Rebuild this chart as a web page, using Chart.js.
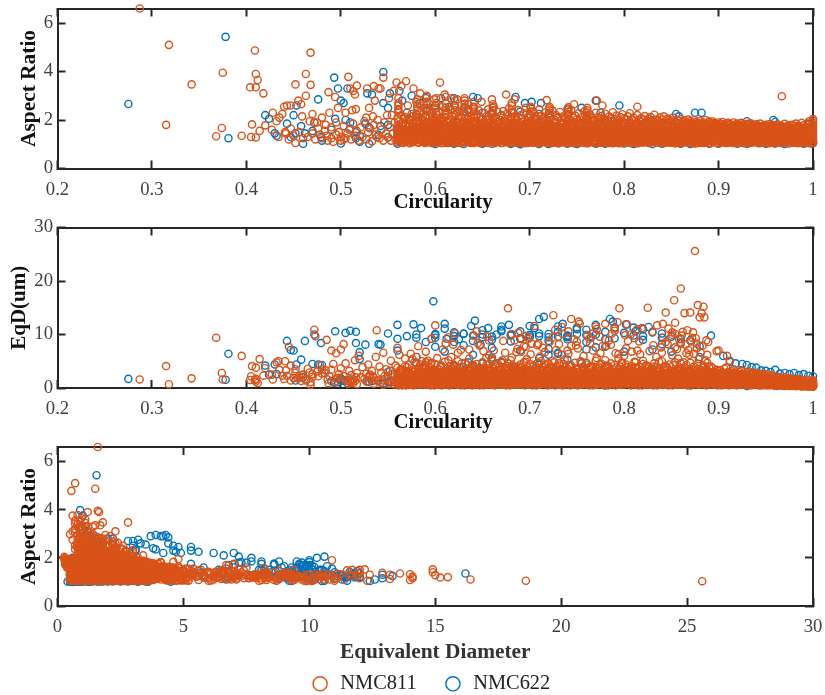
<!DOCTYPE html>
<html><head><meta charset="utf-8">
<script src="https://cdn.jsdelivr.net/npm/chart.js@4"></script>
<style>html,body{margin:0;padding:0;background:#fff;overflow:hidden}canvas{position:absolute;left:0;filter:blur(.35px)}</style></head>
<body>
<canvas id="c1" style="top:0"></canvas><canvas id="c2" style="top:215px"></canvas><canvas id="c3" style="top:435px"></canvas>
<script>
// each particle: [circularity, aspect ratio, equivalent diameter]
const rows811=[
[.287,6.6,1.6],[.318,5.1,.7],[.409,4.87,1.5],[.468,4.78,.55],[.375,3.95,1.6],[.41,3.9,1.2],[.463,3.9,1.65],[.342,3.47,1.8],[.412,3.65,.95],[.404,3.35,1.5],[.41,3.35,1.7],[.418,3.1,2.3],[.452,3.47,2.8],[.468,3.45,1.1],[.315,1.8,4.1],[.374,1.67,2.8],[.368,1.33,9.4],[.395,1.35,6],[.406,1.82,4.1],[.41,1.28,3.8],[.414,1.55,5.4],[.405,1.3,2.2],
[.44,2.55,1.7],[.443,2.6,2.3],[.447,2.6,1.4],[.428,2.3,1.6],[.435,2.1,3.4],[.438,2.25,2.3],[.432,1.95,4.8],[.42,1.78,3.7],[.427,1.6,2.5],[.434,1.3,5],[.441,1.5,5],[.445,1.2,7.7],[.452,1.05,3.5],[.46,1.25,2.5],[.465,1.3,3.6],[.473,1.2,9.7],[.478,1.4,4.3],[.455,2.8,1.8],[.458,2.65,1.3],[.459,2.15,2.4],[.463,3,1.4],[.47,2.25,2.1],[.467,1.95,2.9],[.475,1.9,3.1],[.48,2.1,2.7],[.484,1.8,3.3],[.487,3.15,.9],[.494,2.95,1.1],[.488,2.3,2.2],[.497,2.5,1.9],[.508,3.78,.8],[.51,3.3,1.1],[.513,3.2,.9],[.515,3.05,1.3],[.517,3.42,.7],[.505,2.3,1.5],[.512,2.4,1.3],[.516,2.45,2],[.528,3.3,1.2],[.535,3.4,.8],[.54,3.3,1.4],[.545,3.75,.6],[.542,3.3,1],[.536,2.8,1.4],[.53,2.5,2],[.527,2.1,2.7],[.534,2.15,2.2],[.538,1.3,10.8],
[.472,1.9,10.9],[.485,1.35,9],[.49,1.25,7],[.495,1.4,6.5],[.5,1.3,7.2],[.503,1.2,8.2],[.442,1.45,3.3],[.447,1.65,4.2],[.45,1.35,1.9],[.456,1.5,2.2],[.47,1.45,2.6],[.476,1.65,2.2],[.48,1.25,3.5],[.483,1.55,2.8],[.486,1.15,1.6],[.49,1.7,3.4],[.492,1.1,4.5],[.495,1.9,1.8],[.498,1.5,2.6],[.5,1.15,3.7],[.503,1.75,2.2],[.505,1.25,4.6],[.507,1.45,1.3],[.509,1.6,3.2],[.511,1.2,2.4],[.513,1.85,1.6],[.515,1.35,5.2],[.517,1.55,2.8],[.519,1.15,6],[.521,1.7,2],[.523,1.3,3.9],[.525,1.95,1.7],[.527,1.2,1.2],[.529,1.5,4.4],[.531,1.65,2.5],[.533,1.12,3.2],[.535,1.8,1.9],[.537,1.4,5.8],[.539,2,1.4],[.541,1.25,4],[.543,1.6,2.9],[.545,1.15,6.6],[.546,1.9,2.2],[.548,1.45,3.5],[.549,2.2,1.6],
[.55,1.3,2.1],[.551,2.9,.8],[.552,1.7,3.2],[.553,1.15,5.1],[.554,2.2,1.1],[.555,1.45,2.6],[.556,3.2,.7],[.557,1.9,1.5],[.558,1.2,4.2],[.559,3.55,.9],[.56,1.6,7.5],[.561,2.4,1.8],[.562,1.1,6.2],[.563,1.35,3.4],[.564,3.4,.8],[.565,1.75,2.2],[.566,1.05,1.4],[.567,2.05,1.2],[.568,1.25,5.5],[.569,3.6,1.1],[.57,1.5,3.9],[.571,2.6,1],[.572,1.15,1.9],[.573,1.85,2.7],[.574,1.4,6.4],[.575,2.25,1.5],[.576,1.08,3.1],[.577,3.3,.9],[.578,1.65,4.8],[.579,1.3,2.3],[.58,2.75,1.3],[.581,1.95,.9],[.582,1.18,7.8],[.583,1.55,3.6],[.584,3.1,.6],[.585,2.1,1.7],[.586,1.28,5],[.587,1.72,2.5],[.588,2.5,1.2],[.589,1.1,4.3],[.59,1.45,6.8],[.591,3,.9],[.592,1.88,3],[.593,1.2,2],[.594,2.35,1.4],[.595,1.6,4.5],[.596,1.35,9.2],[.597,2.15,1.9],[.598,1.05,2.8],[.599,2.85,1],
[.6,1.5,11.7],[.605,3.55,.7],[.61,3.05,1],[.617,2.9,.8],[.623,2.85,.9],[.635,2.65,.9],[.649,2.75,.8],[.66,2.85,.9],[.675,3.05,.7],[.684,2.85,1],[.718,2.82,.9],[.747,2.65,1],[.771,2.8,.9],[.777,2.6,1.1],[.814,2.55,1],[.967,2.98,.5],
[.677,1.52,14.9],[.725,1.35,13.6],[.744,1.38,12.9],[.752,1.3,12.4],[.77,1.48,11.5],[.78,1.5,12],[.79,1.28,10.7],[.795,1.4,14.9],[.803,1.25,11.9],[.819,1.3,11.2],[.825,1.28,15],[.83,1.35,10.5],[.835,1.25,11.7],[.841,1.38,12],[.844,1.22,14.1],[.851,1.12,10.4],[.853,1.1,16.4],[.854,1.52,12.2],[.86,1.05,18.6],[.862,1.2,10.5],[.864,1.32,14],[.867,1.1,10.8],[.87,1.15,14.1],[.873,1.28,10.4],[.875,1.03,25.6],[.878,1.2,15.5],[.88,1.12,13.2],[.882,1.08,14],[.884,1.18,15.2],[.885,1.3,13.2],
[.596,1.35,9.2],[.619,1.32,8.1],[.645,1.22,8.4],[.655,1.2,9.6],[.672,1.45,8.8],[.688,1.3,10.3],[.709,1.27,8.3],[.735,1.08,10.1],[.749,1.28,8],[.763,1.15,9.2],[.786,1.08,8.1],[.816,1.12,8.7],[.846,1.58,8.2],[.858,1.4,9.1],[.877,1.42,8.3],[.889,1.4,8.6],[.89,1.95,1.2],[.898,1.25,6.9],[.9,1.3,7],[.912,1.2,5.1],
[.608,1.25,7.2],[.624,1.42,6.6],[.636,1.52,7.2],[.662,1.72,7],[.686,1.7,6.7],[.696,1.25,7.7],[.716,1.55,6.7],[.728,1.15,7.1],[.741,1.18,6.4],[.767,1.75,7],[.775,1.38,6.5],[.794,1.18,6.3],[.802,1.48,7.4],[.808,1.38,6.8],[.827,1.18,6.9],[.839,1.15,7.6],[.856,1.25,7.3],[.866,1.48,6.5],[.888,1.25,6.2],[.909,1.05,6],
[.651,1.15,3.6],[.654,1.25,5.6],[.657,1.35,6.1],[.661,1.45,5],[.664,1.55,4.4],[.671,1.2,5.2],[.674,1.3,6.6],[.677,1.4,4.6],[.681,1.5,5.7],[.684,1.62,3.9],[.691,1.12,6.8],[.694,1.22,4.8],[.697,1.32,5.4],[.701,1.42,6.3],[.704,1.58,4.2],[.711,1.18,5.9],[.714,1.28,7.5],[.717,1.38,4.5],[.721,1.48,3.9],[.724,1.55,5.1],[.731,1.1,4.6],[.734,1.2,6.2],[.737,1.3,5.3],[.74,1.4,7],[.743,1.52,4.3],[.751,1.15,7.4],[.754,1.25,5],[.757,1.35,6],[.76,1.45,4.7],[.763,1.6,3.8],[.771,1.08,5.6],[.774,1.18,4.4],[.777,1.28,7.8],[.78,1.38,5.2],[.783,1.5,4.1],[.791,1.12,6.5],[.794,1.22,5.5],[.797,1.32,4.7],[.8,1.42,6],[.803,1.48,3.9],[.811,1.1,4.9],[.814,1.2,7],[.817,1.3,6.3],[.82,1.4,5.1],[.823,1.52,4.2],[.831,1.15,8],[.834,1.25,5.8],[.837,1.35,4.9],[.84,1.45,6.6],[.843,1.56,4],[.851,1.06,6.1],[.854,1.16,7.6],[.857,1.26,5.5],[.86,1.36,8.3],[.863,1.44,4.8],[.871,1.12,8.7],[.874,1.22,6.4],[.877,1.32,7.4],[.879,1.42,5.4],[.872,1.5,9.4],[.861,1.2,9.8],[.865,1.3,8.1],[.868,1.1,7.1],[.869,1.38,6.2],[.876,1.28,9.3],[.881,1.15,6.7],[.883,1.25,7.9],[.886,1.05,5.2],[.888,1.35,4.7],[.887,1.18,8.9],
[.611,1.08,8.3],[.614,1.18,9.5],[.617,1.28,5.8],[.621,1.14,10.2],[.627,1.38,7.1],[.641,1.05,9.8],[.644,1.22,10.6],[.647,1.34,7.9],[.651,1.1,6.9],[.657,1.3,8.9],[.681,1.12,10.1],[.684,1.2,8.9],[.687,1.4,7.3],[.691,1.06,9.3],[.694,1.26,7.8],[.721,1.08,8.6],[.724,1.16,9.4],[.727,1.24,10.9],[.731,1.36,8.2],[.734,1.1,11.4],[.761,1.04,9.9],[.764,1.18,8.4],[.767,1.3,10.2],[.771,1.12,11],[.774,1.24,9.6],[.801,1.1,9.9],[.804,1.2,8.8],[.807,1.28,10],[.811,1.14,9.3],[.814,1.05,11],[.841,1.08,9.4],[.844,1.22,8.6],[.847,1.16,11.1],[.851,1.3,9.9],[.854,1.04,10.1],[.696,1.1,9.7],[.699,1.25,9.2],[.702,1.15,8.3],[.705,1.33,11.6],[.708,1.05,8],[.741,1.1,10.6],[.744,1.2,7.9],[.747,1.32,9.1],[.75,1.05,8.7],[.753,1.15,12],[.781,1.16,7.9],[.784,1.26,8.9],[.787,1.08,10.2],[.79,1.34,11.1],[.793,1.05,12.3]
];
// dense band: [circularity, aspect,diameter, aspect,diameter, ...]
const dense811=[
[.56,1.08,3.8,1.31,.9,1.52,2.4,1.77,1.3,2.08,1.6],[.564,1.12,1.5,1.36,3,1.57,.8,1.83,1.9,2.19,1.4],[.568,1.1,2.9,1.33,1.4,1.54,4.1,1.79,2.3,2.12,1.9],[.572,1.07,4.3,1.28,2.6,1.5,1.2,1.74,3.1,2.05,.9],[.576,1.14,1.9,1.37,5.4,1.59,3.2,1.85,1,2.15,2.4],
[.58,1.2,5.8,1.44,1.3,1.65,2.5,1.93,1.7,2.23,1.5],[.582,1.06,3.4,1.34,2.8,1.56,.9,1.81,3.6,2.09,2],[.584,1.16,1.2,1.41,4.4,1.62,2.1,1.87,1.4,2.34,1.2],[.586,1.11,2.7,1.29,3.7,1.53,1.5,1.76,2.9,2.02,.8],[.588,1.23,4,1.45,1,1.69,3,1.97,2,2.62,1.1],
[.59,1.13,1.7,1.38,2.3,1.58,4.8,1.84,1.2,2.17,1.7],[.592,1.08,5.1,1.32,3.3,1.51,1.8,1.75,2.7,2.41,.9],[.594,1.21,2.2,1.43,.8,1.66,3.8,1.92,1.6,2.1,2.3],[.596,1.05,3.1,1.27,4.7,1.55,2.4,1.78,1.1,2.28,1.4],[.598,1.18,1.4,1.39,2.9,1.6,1.9,1.86,3.4,2.04,1.3],
[.6,1.1,4.5,1.35,1.6,1.64,3.2,1.89,.9,2.48,1.2],[.602,1.25,2.6,1.48,5.6,1.71,1.3,1.98,2.2,2.2,1.8],[.604,1.07,1.8,1.3,3.5,1.52,2.7,1.77,1.5,2.36,.7],[.606,1.15,3.9,1.4,1,1.59,4.2,1.82,2.4,2.07,1.6],[.608,1.2,2,1.43,2.8,1.67,1.1,1.95,3,2.56,1],
[.61,1.09,1.3,1.33,4.9,1.56,2.3,1.8,1.7,2.13,2],[.612,1.17,3.6,1.46,1.5,1.62,3.1,1.9,.8,2.3,1.3],[.614,1.05,2.5,1.28,1.9,1.54,5.2,1.73,2.6,2.01,1.4],[.616,1.22,4.1,1.37,3.2,1.69,1.4,1.94,2.1,2.42,.9],[.618,1.13,.9,1.41,2.2,1.6,3.7,1.84,1.2,2.16,1.9],
[.62,1.08,3,1.32,4.3,1.5,1.6,1.79,2.8,2.6,.8],[.622,1.19,1.5,1.44,2.7,1.65,.9,1.88,3.4,2.25,1.2],[.624,1.06,5,1.26,1.2,1.57,2.9,1.76,1.8,2.06,1.5],[.626,1.16,2.3,1.39,3.8,1.63,2,1.92,1.3,2.35,1.7],[.628,1.11,1.7,1.34,.8,1.53,4.6,1.81,2.5,2.11,2.2],
[.63,1.24,3.2,1.47,2.1,1.68,1.4,1.97,2.9,2.47,1],[.632,1.07,4.7,1.3,3,1.55,1.1,1.78,2.2,2.18,1.6],[.634,1.14,1,1.42,2.4,1.61,3.5,1.86,1.7,2.03,1.1],[.636,1.2,2.8,1.36,5.5,1.58,1.9,1.83,1,2.32,1.4],[.638,1.05,1.6,1.29,3.3,1.51,2.6,1.75,4,2.14,1.8],
[.64,1.17,4.2,1.4,1.2,1.66,2.2,1.93,3.1,2.53,.9],[.642,1.1,2.6,1.33,1.8,1.56,3.9,1.8,1.4,2.08,2.1],[.644,1.22,.9,1.45,4.5,1.64,2.8,1.89,1.6,2.24,1.3],[.646,1.08,3.5,1.27,2,1.52,1.3,1.74,3.3,2.4,1.1],[.648,1.15,1.9,1.38,3.6,1.6,.8,1.85,2.4,2.12,1.5],
[.65,1.06,2.2,1.31,4.8,1.54,3,1.77,1.2,2.02,2.4],[.652,1.19,3.7,1.43,1.5,1.67,2.3,1.94,1.9,2.29,1.2],[.654,1.12,1.1,1.35,2.9,1.59,4.3,1.82,2.7,2.15,1.7],[.656,1.05,4.4,1.28,1.7,1.5,2.1,1.72,3.7,2.44,.8],[.658,1.23,2.5,1.41,3.4,1.63,1,1.9,1.5,2.07,1.9],
[.66,1.1,1.4,1.37,5.3,1.55,2.6,1.79,2,2.21,1.4],[.662,1.16,3.1,1.3,1.9,1.61,3.6,1.87,1.1,2.55,1],[.664,1.07,2.4,1.44,.9,1.53,1.6,1.76,2.8,2.1,2.2],[.666,1.2,4.6,1.34,2.7,1.65,3.3,1.92,1.3,2.33,1.3],[.668,1.13,1.8,1.39,4,1.58,1.2,1.83,2.5,2.01,1.6],
[.67,1.05,3.4,1.26,2.2,1.49,4.7,1.74,1.7,2.18,1.1],[.672,1.18,1.3,1.42,3,1.68,2.4,1.95,.9,2.37,1.5],[.674,1.09,2.9,1.32,1.4,1.56,3.8,1.81,2.1,2.05,2],[.676,1.21,4.1,1.46,2.5,1.62,1.5,1.88,3.2,2.26,.9],[.678,1.12,.8,1.36,3.7,1.52,2,1.77,1.2,2.48,1.2],
[.68,1.07,5.2,1.29,1.6,1.59,2.9,1.85,2.3,2.09,1.8],[.682,1.15,2.1,1.4,4.2,1.66,1.1,1.91,1.8,2.3,1.4],[.684,1.23,3.3,1.33,2.6,1.54,3.5,1.73,.9,2.13,1.6],[.686,1.06,1.5,1.45,.8,1.63,2.2,1.84,2.9,2.02,2.3],[.688,1.17,4,1.31,3.1,1.5,1.7,1.79,1.3,2.41,1],
[.69,1.1,2.3,1.38,1.2,1.6,4.4,1.87,2.4,2.19,1.5],[.692,1.2,1,1.27,3.9,1.56,2.7,1.93,1.6,2.06,1.3],[.694,1.08,3.6,1.43,2,1.67,1.4,1.76,3.4,2.28,1.7],[.696,1.14,1.7,1.35,4.9,1.53,2.5,1.82,1,2.5,.9],[.698,1.05,2.8,1.3,1.3,1.61,3.2,1.9,2.2,2.11,1.2],
[.7,1.19,4.5,1.41,2.3,1.55,.9,1.8,1.9,2.23,2],[.702,1.11,1.6,1.34,3.4,1.65,2.8,1.86,1.2,2,1.6],[.704,1.06,3,1.28,1.1,1.51,4.1,1.74,2.6,2.35,1.1],[.706,1.22,2.4,1.44,3.8,1.62,1.7,1.94,1.4,2.14,1.8],[.708,1.13,.8,1.37,2.1,1.57,3.1,1.83,4.6,2.04,1.3],
[.71,1.07,3.7,1.32,1.5,1.69,2.3,1.78,3,2.44,.8],[.712,1.16,1.9,1.39,5,1.52,1.2,1.88,1.8,2.17,1.5],[.714,1.09,2.7,1.25,3.3,1.59,3.9,1.96,.9,2.08,2.2],[.716,1.2,4.3,1.42,.9,1.64,2,1.75,2.5,2.31,1.2],[.718,1.05,1.2,1.35,2.8,1.54,1.6,1.85,3.5,2.01,1.7],
[.72,1.14,3.2,1.29,1.8,1.6,4.6,1.91,1.1,2.26,1.4],[.722,1.1,2,1.46,3.6,1.67,2.6,1.81,1.5,2.1,1.9],[.724,1.23,.9,1.33,2.5,1.56,1.3,1.77,3.8,2.39,.9],[.726,1.07,4.8,1.4,1.4,1.5,3.3,1.87,2.1,2.03,1.1],[.728,1.17,2.6,1.3,4,1.63,1,1.93,1.7,2.2,1.6],
[.73,1.06,1.5,1.37,2.2,1.58,2.9,1.72,3.4,2.12,2.1],[.732,1.12,3.5,1.43,1.1,1.66,4.2,1.84,1.3,2.33,1],[.734,1.21,2.3,1.27,3,1.53,1.9,1.8,2.7,2,1.4],[.736,1.08,.8,1.35,4.5,1.61,2.4,1.89,1.6,2.15,1.7],[.738,1.15,3.9,1.41,1.7,1.55,1.2,1.76,3.1,2.07,1.2],
[.74,1.05,2.8,1.31,2.6,1.64,3.6,1.95,.9,2.25,1.5],[.742,1.19,1.3,1.44,4.3,1.51,2.1,1.83,1.9,2.02,2],[.744,1.1,4.1,1.26,1.6,1.59,1,1.78,2.9,2.4,.8],[.746,1.16,2.1,1.38,3.2,1.68,2.5,1.86,1.4,2.1,1.6],[.748,1.07,1,1.33,1.2,1.54,4.7,1.91,2.2,2.18,1.1],
[.75,1.22,3.4,1.45,2.7,1.62,1.5,1.74,3.7,2.04,1.9],[.752,1.12,1.8,1.29,.9,1.57,3,1.82,1.1,2.28,1.3],[.754,1.06,4.9,1.36,2.3,1.5,1.8,1.88,2.6,2,2.4],[.756,1.18,2.5,1.42,3.9,1.65,.8,1.77,1.5,2.13,1.4],[.758,1.09,1.4,1.3,1.7,1.6,3.4,1.94,1.2,2.36,1],
[.76,1.14,3.1,1.39,4.4,1.53,2.2,1.85,2.8,2.06,1.7],[.762,1.05,.9,1.25,2.4,1.67,1.3,1.8,3.5,1.99,2.1],[.764,1.2,4,1.43,1.1,1.56,2.7,1.73,1.9,2.22,1.2],[.766,1.1,2,1.34,3.7,1.63,4.1,1.9,1,2.09,1.5],[.768,1.17,1.6,1.41,2.9,1.49,1.5,1.79,2.3,2.02,1.9],
[.77,1.07,5.1,1.31,1.3,1.59,2.5,1.86,3.2,2.3,.9],[.772,1.23,2.7,1.46,.8,1.66,3.6,1.75,1.7,2.11,1.3],[.774,1.13,1.1,1.28,3.8,1.54,1.9,1.83,1.2,2,2.2],[.776,1.06,3.3,1.37,2.1,1.61,4.5,1.92,2.4,2.16,1.4],[.778,1.15,2.2,1.44,1.5,1.51,1.1,1.78,3,2.05,1.6],
[.78,1.09,.8,1.3,4.2,1.64,2.6,1.87,1.6,2.26,1.1],[.782,1.19,3.6,1.4,2.8,1.57,1.4,1.72,3.9,2.01,2],[.784,1.05,1.9,1.33,1,1.53,3.1,1.81,2,2.14,1.2],[.786,1.11,4.6,1.26,2.5,1.68,.9,1.95,1.3,2.08,1.7],[.788,1.21,1.2,1.42,3.5,1.6,2.3,1.76,2.7,2.32,.9],
[.79,1.07,2.9,1.35,1.8,1.5,4.3,1.84,1.1,2.03,1.5],[.792,1.16,3.8,1.29,2.2,1.62,1.6,1.89,2.4,2.18,1],[.794,1.1,1.5,1.45,.9,1.55,3.3,1.79,3.6,2,1.8],[.796,1.22,2.4,1.38,4,1.66,2,1.74,1.2,2.12,2],[.798,1.05,4.7,1.32,1.4,1.58,2.8,1.93,1.9,2.24,1.1],
[.8,1.13,1.7,1.41,3,1.52,1.2,1.82,3.4,2.05,1.3],[.802,1.08,3.2,1.27,2.6,1.63,4.4,1.86,.8,2.01,2.1],[.804,1.18,.9,1.36,1.6,1.56,2.1,1.77,2.9,2.15,1.5],[.806,1.06,2.3,1.43,3.7,1.48,3.5,1.9,1.5,2.28,.9],[.808,1.2,4.1,1.3,1,1.65,1.8,1.71,2.5,2.03,1.2],
[.81,1.11,2.7,1.39,2.4,1.59,.8,1.84,3.1,2.1,1.7],[.812,1.05,1.3,1.25,4.8,1.53,3.8,1.8,1.4,1.98,2.3],[.814,1.15,3.5,1.44,1.9,1.61,2.3,1.88,2.1,2.2,1],[.816,1.09,2,1.33,3.1,1.67,1.1,1.75,4,2,1.4],[.818,1.23,1.1,1.37,2.2,1.5,2.9,1.92,1.2,2.08,1.8],
[.82,1.07,4.5,1.29,1.5,1.57,3.4,1.82,2.6,2.02,2],[.822,1.17,2.5,1.42,.9,1.64,1.7,1.78,1.9,2.16,1.3],[.824,1.12,3.6,1.34,4.2,1.52,2.7,1.85,1,1.97,1.6],[.826,1.05,1.6,1.4,2,1.6,3.9,1.73,3.2,2.05,1.1],[.828,1.2,2.9,1.26,3.3,1.55,1.3,1.9,1.7,2.12,1.9],
[.83,1.1,.8,1.45,1.2,1.66,2.4,1.8,2.8,1.99,2.3],[.832,1.16,4,1.31,2.7,1.49,4.6,1.86,1.4,2.22,.8],[.834,1.06,2.2,1.38,3.8,1.62,1.5,1.75,2.2,2.02,1.4],[.836,1.22,1.4,1.35,1.1,1.58,3,1.83,3.5,1.96,1.8],[.838,1.08,3.1,1.43,2.5,1.53,1.9,1.77,1.1,2.1,1.2],
[.84,1.14,5,1.28,1.7,1.65,2.6,1.88,2,2.01,1.5],[.842,1.05,1.9,1.4,3.4,1.56,.9,1.72,3.7,2.15,1],[.844,1.19,2.8,1.33,.9,1.5,4.1,1.84,1.6,1.98,2.2],[.846,1.11,3.7,1.46,2.2,1.61,2.3,1.79,2.4,2.06,1.3],[.848,1.07,1.2,1.25,4.4,1.54,3.2,1.9,1.2,2,1.7],
[.85,1.21,2.4,1.37,1.4,1.68,1.6,1.74,2.9,1.95,1.9],[.852,1.12,4.3,1.3,3,1.52,2.8,1.82,.9,2.1,1],[.854,1.06,1.5,1.42,2.1,1.59,4.8,1.76,3.3,1.93,1.5],[.856,1.17,3.3,1.34,1.1,1.63,1.3,1.86,1.8,2,1.2],[.858,1.1,.8,1.27,3.6,1.49,2.5,1.71,2.3,1.97,2],
[.86,1.05,2.7,1.39,4.6,1.56,3.7,1.8,1.5,2.04,.9],[.862,1.23,1.7,1.44,1.6,1.6,1.1,1.75,3,1.92,1.4],[.864,1.13,3.9,1.31,2.3,1.66,2.1,1.84,1.2,1.98,1.8],[.866,1.08,2.2,1.36,.9,1.51,4.3,1.7,2.6,1.9,1.6],[.868,1.18,1,1.26,3.2,1.58,1.8,1.78,3.5,2.02,1.1],
[.87,1.06,4.7,1.41,1.9,1.54,2.9,1.87,1.4,1.95,1.3],[.872,1.15,3,1.33,2.8,1.62,1.4,1.73,2.1,1.89,1.9],[.874,1.1,1.3,1.45,4,1.5,3.4,1.81,.9,1.99,1.5],[.876,1.2,2.5,1.29,1.2,1.64,2.3,1.76,3.1,1.92,1],[.878,1.05,3.6,1.38,2.4,1.56,4.5,1.83,1.7,1.88,1.4],
[.88,1.13,.9,1.34,3.5,1.6,1.2,1.72,2.7,1.96,1.7],[.882,1.07,2,1.43,1.5,1.52,2.6,1.79,2,1.86,1.2],[.884,1.17,4.2,1.27,2.9,1.66,3.8,1.74,1.3,1.9,.9],[.886,1.11,1.6,1.39,.8,1.57,1.7,1.84,3.3,2,1.1],[.888,1.22,3.2,1.31,2.1,1.48,3,1.69,1.5,1.83,1.8],
[.89,1.06,2.6,1.44,3.9,1.61,2.2,1.77,1,1.91,1.3],[.892,1.14,1.1,1.36,1.7,1.53,4,1.71,2.4,1.85,1.5],[.894,1.09,3.7,1.25,2.7,1.59,1.4,1.8,1.8,1.94,.9],[.896,1.19,1.9,1.41,1.1,1.64,2.8,1.74,3,1.87,1.2],[.898,1.05,2.9,1.33,3.4,1.5,1.8,1.68,1.2,1.82,1.7],
[.9,1.12,1.4,1.28,2.3,1.56,3.2,1.78,1.6,1.9,1],[.902,1.07,3.3,1.4,1.5,1.6,.9,1.72,2.5,1.84,1.3],[.904,1.2,.8,1.35,2.8,1.49,2.1,1.66,1.7,1.92,.8],[.906,1.1,2.4,1.43,3.6,1.54,1.3,1.75,1,1.8,1.5],[.908,1.15,3.8,1.3,1.2,1.62,2.6,1.69,2,1.86,1.1],
[.91,1.06,1.7,1.37,2.5,1.52,3,1.79,1.3,1.88,.9],[.912,1.22,2.9,1.26,1,1.58,1.6,1.7,2.3,1.83,1.4],[.914,1.09,1.2,1.41,3.1,1.47,2.2,1.65,1.8,1.78,1],[.916,1.17,3.5,1.33,1.9,1.55,.9,1.74,2.7,1.9,.7],[.918,1.05,2.1,1.44,1.3,1.6,2.9,1.68,1.1,1.81,1.3],
[.92,1.13,.9,1.29,2.7,1.5,1.7,1.76,2.1,1.85,.9],[.922,1.08,3,1.38,1.6,1.63,1.1,1.72,1.4,1.79,1.2],[.924,1.19,2.2,1.31,3.3,1.46,2.5,1.67,.8,1.88,.8],[.926,1.11,1.4,1.42,.8,1.57,1.9,1.7,2.4,1.82,1],[.928,1.06,2.6,1.25,1.8,1.53,3,1.75,1.2,1.77,1.4],
[.93,1.16,1.8,1.36,2.4,1.6,1.4,1.65,1.9,1.84,.7],[.932,1.04,3.1,1.28,1.2,1.49,2.2,1.71,1,1.78,1.2],[.934,1.21,1,1.4,2,1.55,1.6,1.68,2.5,1.86,.6],[.936,1.1,2.5,1.33,2.9,1.44,1,1.73,1.5,1.8,.9],[.938,1.14,1.5,1.26,1.4,1.58,2.3,1.63,1.1,1.75,1.3],
[.94,1.07,2.8,1.39,1.8,1.52,1.2,1.69,1.7,1.82,.8],[.942,1.18,.7,1.3,2.5,1.47,2,1.66,.9,1.76,1.1],[.944,1.05,2.1,1.42,1,1.61,1.5,1.72,1.2,1.85,.5],[.946,1.12,1.3,1.35,2.2,1.5,2.6,1.64,1.6,1.74,.9],[.948,1.2,2.4,1.27,1.6,1.56,.8,1.7,1.3,1.78,.7],
[.95,1.09,1.7,1.38,1.1,1.45,1.9,1.62,2,1.8,.6],[.952,1.15,2.6,1.31,2,1.53,1.3,1.68,.8,1.73,1],[.954,1.04,.9,1.41,1.5,1.59,1.7,1.65,1.2,1.83,.5],[.956,1.22,1.9,1.25,2.3,1.48,1,1.71,.7,1.76,.8],[.958,1.1,2.2,1.36,.7,1.54,1.6,1.61,1.4,1.79,.5],
[.96,1.06,1.4,1.29,1.8,1.43,2.1,1.67,1,1.72,.7],[.962,1.17,.8,1.39,1.2,1.57,.9,1.63,1.5,1.81,.4],[.964,1.12,2,1.33,1.6,1.5,1.4,1.69,.6,1.74,.8],[.966,1.05,1.1,1.24,.9,1.46,1.9,1.6,1.1,1.77,.5],[.968,1.19,1.7,1.37,1.3,1.52,.7,1.66,.8,1.71,.9],
[.97,1.08,.6,1.3,2,1.42,1.1,1.58,1.3,1.84,.4],[.972,1.14,1.5,1.4,.8,1.55,1.6,1.64,.7,1.73,.6],[.974,1.04,1.8,1.27,1.2,1.48,.9,1.61,1,1.78,.45],[.976,1.21,.9,1.34,1.7,1.44,1.4,1.68,.6,1.7,.8],[.978,1.1,1.3,1.38,.6,1.53,1.1,1.59,.9,1.8,.4],
[.98,1.06,1.6,1.26,1.4,1.47,.8,1.65,.5,1.74,.6],[.982,1.16,.7,1.32,1,1.51,1.3,1.62,.7,1.85,.35],[.984,1.05,1.2,1.41,1.5,1.56,.6,1.69,.5,1.76,.45],[.986,1.12,1.7,1.28,.8,1.43,1.1,1.6,.9,1.72,.5],[.988,1.2,1,1.36,1.3,1.5,.7,1.66,.45,1.88,.3],
[.99,1.04,1.4,1.24,.6,1.45,1,1.58,.8,1.78,.35],[.992,1.14,.8,1.39,1.2,1.54,.5,1.63,.6,1.7,.45],[.994,1.08,1.5,1.3,1,1.48,.75,1.6,.5,1.82,.3],[.996,1.18,.6,1.34,.9,1.52,.55,1.67,.4,1.95,.28],[.998,1.05,1.3,1.27,.7,1.42,1.1,1.57,.45,1.75,.32],
[1,1.1,1.1,1.18,.9,1.26,1.25,1.34,.75,1.42,.95],[1,1.5,.65,1.58,.55,1.66,.42,1.74,.38,1.82,.33],[1,1.9,.3,1.98,.28,2.04,.27,1.04,1.5,1.08,.5],
[.601,2.7,1.2,2.9,1.5,2.3,2.1,2.5,1.8,2.1,2.8],[.621,2.6,1.6,2.8,1.1,2.4,2.5,2.2,2.9,2,3.2],[.641,2.75,1.4,2.55,2,2.35,1.7,2.15,2.6,2.45,1],[.661,2.65,1.3,2.4,2.3,2.25,2.7,2.5,1.5,2.05,3],[.681,2.6,.8,2.7,1.2,2.3,1.9,2.42,1.6,2.1,2.5],[.701,2.5,1.1,2.35,2.2,2.2,2.4,2.55,.8,2.15,1.8],[.721,2.4,1.3,2.55,.9,2.28,1.9,2.12,2.6,2.48,1.7],[.741,2.35,1.5,2.45,1.2,2.22,2.1,2.05,3,2.52,.7],[.761,2.3,1.4,2.4,1.8,2.18,2.3,2.08,2.7,2.5,1],[.561,2.7,1.5,2.45,2.3,2.9,1.2,2.3,2.7,2.6,1.8],[.581,2.65,1.1,2.85,1.6,2.55,2.2,2.4,1.4,2.2,3],[.591,2.95,1.9,2.75,.6,2.5,1.7,2.35,2.6,2.62,2.4],[.611,2.5,2.6,2.7,1.8,2.95,1.3,2.38,1.1,2.24,1.6],[.631,2.68,2.2,2.52,1.3,2.32,3,2.8,1.7,2.9,2.1],
[.561,1.14,.6,1.42,1.9,1.7,.5,1.22,2.8,1.56,1.1,1.95,.7],[.565,1.06,2.2,1.3,.5,1.62,1.4,1.88,2,1.48,3.4,1.24,1.6],[.569,1.18,3.1,1.4,1.3,1.58,.7,1.8,1.6,1.1,.5,1.34,2.5],[.573,1.04,1.1,1.27,2.9,1.52,2.2,1.75,.6,2,1.1,1.44,.8],
[.577,1.2,.7,1.36,1.5,1.66,3,1.9,.8,1.12,1.9,1.5,.5],[.583,1.08,2.5,1.24,.6,1.46,1.2,1.72,2.4,1.94,1.5,1.6,.9],[.589,1.15,1.4,1.33,3,1.55,.6,1.83,.9,1.05,3.6,1.4,2],[.595,1.22,2.1,1.43,.5,1.68,1.5,1.1,.7,1.78,2.7,1.3,1.1],
[.599,1.06,.8,1.28,1.7,1.5,2.5,1.74,.5,1.98,1.2,1.38,3.2],[.603,1.17,3.4,1.35,.7,1.6,1.1,1.86,1.6,1.09,2.3,1.47,.6],[.607,1.04,1.3,1.23,2.6,1.54,.5,1.7,2,1.92,.9,1.32,.9],[.611,1.19,.6,1.45,1.8,1.63,.9,1.8,3,1.12,1.6,1.37,2.3],
[.615,1.07,2.7,1.29,1,1.51,3.3,1.76,.6,2.02,1.7,1.42,.5],[.619,1.14,1.5,1.34,2.4,1.58,.7,1.85,2.2,1.05,.9,1.25,3.6],[.623,1.21,3,1.41,.6,1.67,1.8,1.93,.7,1.1,2,1.49,1.2],[.627,1.05,.7,1.31,1.3,1.55,2.7,1.72,1,1.83,1.5,1.18,.5],
[.631,1.13,2.3,1.38,3.1,1.61,.5,1.88,1.2,1.28,.8,1.5,1.9],[.635,1.08,1,1.44,1.6,1.69,1.1,1.78,2.5,1.2,3.3,1.36,.6],[.639,1.16,3.5,1.26,.7,1.53,2.2,1.96,.5,1.07,1.4,1.46,2.8],[.643,1.23,.9,1.39,2,1.6,1.5,1.82,.8,1.11,.6,1.31,2.9],
[.647,1.05,1.8,1.3,.5,1.5,3.2,1.75,2.1,1.9,.9,1.42,1.2],[.651,1.18,2.6,1.36,1.2,1.65,.7,1.86,1.4,1.09,3.7,1.55,.5],[.655,1.07,.6,1.24,3.4,1.47,1.7,1.71,.9,1.99,.7,1.34,2.2],[.659,1.14,1.6,1.43,.8,1.58,2.6,1.8,.6,1.2,1.2,1.62,1.9],
[.663,1.1,3,1.28,1.4,1.52,.5,1.84,2.3,1.04,.7,1.39,.9],[.667,1.22,1,1.33,2.2,1.63,1.3,1.92,.6,1.13,2.7,1.48,3.1],[.671,1.06,2,1.41,.6,1.57,.9,1.76,2.8,1.27,1.6,1.68,.6],[.675,1.17,.7,1.35,3.5,1.5,2.1,1.87,1.2,1.09,.5,1.44,1.4],
[.679,1.05,2.8,1.25,.9,1.6,1.6,1.73,.5,1.97,1,1.38,2.4],[.683,1.12,1.2,1.46,1.9,1.54,3.2,1.81,1.5,1.19,.6,1.32,.8],[.687,1.2,3.6,1.3,.6,1.66,.8,1.89,2,1.08,2.2,1.43,1.7],[.691,1.07,.8,1.37,2.7,1.56,1.4,1.77,.7,1.15,1.3,1.26,3],
[.695,1.13,1.9,1.42,1,1.62,2.4,1.85,.5,1.04,3.2,1.49,.6],[.699,1.23,.6,1.34,3.3,1.53,.7,1.71,1.7,1.1,1.5,1.9,1],[.703,1.06,2.4,1.28,1.3,1.59,1.9,1.8,2.6,1.18,.8,1.4,.5],[.707,1.16,1.1,1.45,.5,1.67,3,1.84,.8,1.08,1.8,1.32,2.2],
[.711,1.05,3.3,1.24,2,1.51,.6,1.74,1.4,1.97,.7,1.36,1.2],[.715,1.19,.7,1.39,1.7,1.61,1.1,1.88,2.2,1.12,2.9,1.47,.9],[.719,1.09,2.1,1.31,.5,1.55,2.5,1.76,.6,1.22,1.3,1.66,3.3],[.723,1.14,1.3,1.43,3.1,1.5,.8,1.82,1.9,1.05,.6,1.27,1.6],
[.727,1.21,2.9,1.35,.9,1.64,1.5,1.92,.5,1.08,3.5,1.58,2],[.731,1.04,.6,1.29,1.9,1.46,.6,1.72,2.4,1.17,1.1,1.38,2.6],[.735,1.11,1.7,1.41,.7,1.6,3.3,1.85,1,1.25,2.7,1.53,.5],[.739,1.18,3.2,1.33,1.4,1.57,.9,1.79,.7,1.07,1.2,1.44,1.9],
[.743,1.06,1.1,1.26,2.4,1.49,1.7,1.87,2.1,1.14,.5,1.68,.8],[.747,1.2,2.3,1.37,.6,1.62,2.8,1.75,.6,1.04,3,1.42,1.3],[.751,1.09,.7,1.31,3,1.55,1.3,1.83,1.6,1.23,1.9,1.64,.5],[.755,1.15,1.9,1.45,1.2,1.52,.6,1.73,2.7,1.07,.8,1.35,2.4],
[.759,1.05,3.4,1.28,.7,1.59,2,1.9,.7,1.19,1.5,1.48,.9],[.763,1.22,1.4,1.39,2.5,1.66,.8,1.8,1.2,1.11,2.2,1.3,.5],[.767,1.08,.6,1.34,1.6,1.5,3,1.77,.5,1.95,1.4,1.56,1.9],[.771,1.13,2.7,1.42,.9,1.61,1.5,1.85,2.3,1.24,.6,1.04,1.7],
[.775,1.17,1,1.27,2,1.53,.7,1.72,1.8,1.08,3.2,1.46,2.6],[.779,1.05,2.2,1.36,3.4,1.63,1.1,1.88,.6,1.2,.7,1.41,.5],[.783,1.12,.5,1.3,1.3,1.56,2.4,1.79,1,1.96,.8,1.51,3.1],[.787,1.19,3,1.44,.7,1.49,1.6,1.74,2.2,1.09,1.3,1.33,1.9],
[.791,1.06,1.5,1.25,2.9,1.6,.5,1.83,.9,1.15,.6,1.67,1.2],[.795,1.21,.8,1.38,1.1,1.54,2,1.78,3,1.04,2.5,1.47,.6],[.799,1.1,2.6,1.32,.6,1.64,1.4,1.91,.6,1.17,1.7,1.43,3.3],[.803,1.07,1.2,1.41,2.3,1.51,.8,1.71,1.7,1.26,.9,1.58,2.5],
[.807,1.14,3.3,1.35,1.5,1.62,.6,1.84,1.2,1.05,.5,1.46,1.8],[.811,1.23,.7,1.29,2.8,1.55,2.2,1.76,.7,1.11,1.4,1.39,.9],[.815,1.04,1.9,1.44,.5,1.48,1.3,1.86,2.4,1.18,3,1.65,.7],[.819,1.16,1.1,1.33,1.7,1.59,3.1,1.73,.5,1.08,2.1,1.52,1.5],
[.823,1.09,2.5,1.26,.8,1.5,.7,1.81,1.8,1.21,.6,1.62,2.2],[.827,1.13,.6,1.4,3.2,1.57,1.6,1.93,.8,1.05,1.2,1.31,2.6],[.831,1.2,1.8,1.36,1.1,1.67,.9,1.77,2.5,1.1,3.4,1.45,.5],[.835,1.06,3.1,1.3,.5,1.53,2.1,1.85,.6,1.16,1.5,1.6,1.3],
[.839,1.12,.9,1.42,2.7,1.63,.6,1.72,1.6,1.24,2.3,1.37,1],[.843,1.18,2,1.28,1.3,1.49,3.3,1.8,1.1,1.05,.6,1.56,.8],[.847,1.07,1.4,1.35,.7,1.61,1.9,1.89,.5,1.14,2.8,1.44,2.4],[.851,1.22,2.9,1.41,1.7,1.54,.5,1.74,2.1,1.09,.9,1.65,1.1],
[.855,1.05,.6,1.29,2.4,1.47,1.2,1.83,.8,1.19,1.6,1.58,3],[.859,1.11,1.7,1.38,.6,1.62,2.6,1.77,1.3,1.04,3.5,1.33,1],[.863,1.16,3.2,1.25,1.5,1.52,.7,1.71,.6,1.07,2,1.43,2.2],[.867,1.2,.8,1.4,2.9,1.59,1.4,1.86,1,1.12,.5,1.67,1.9],
[.871,1.06,2.3,1.32,.9,1.55,3.1,1.79,.6,1.24,1.2,1.47,.5],[.875,1.14,1.2,1.37,1.8,1.64,.7,1.73,2.4,1.04,2.7,1.5,1.5],[.879,1.09,3,1.28,.6,1.49,2,1.84,.7,1.17,1.4,1.6,.9],[.883,1.21,.7,1.43,2.2,1.57,1.1,1.7,1.7,1.05,3.2,1.35,2.6],
[.887,1.12,1.6,1.3,1.3,1.62,.5,1.78,1.2,1.08,.8,1.45,2.3],[.891,1.04,2.6,1.39,.6,1.51,1.8,1.66,2.5,1.19,1,1.26,3],[.895,1.16,.9,1.34,2.4,1.58,.8,1.82,.6,1.1,1.9,1.48,1.3],[.899,1.22,1.9,1.42,1.1,1.53,2.4,1.72,.5,1.06,.6,1.63,1.5],
[.903,1.09,2.8,1.27,.7,1.47,1.5,1.76,1,1.15,1.3,1.59,.5],[.907,1.05,.6,1.37,1.9,1.56,.9,1.68,2.2,1.2,2.4,1.44,.7],[.911,1.13,1.5,1.31,.5,1.6,1.3,1.8,.7,1.08,2.9,1.5,2],[.915,1.18,2.5,1.41,1.2,1.52,.6,1.7,1.5,1.05,.8,1.28,1.7],
[.919,1.1,.7,1.35,2.1,1.63,.8,1.74,.5,1.22,1.1,1.46,1.4],[.923,1.06,1.9,1.25,.6,1.55,2.2,1.66,1.3,1.14,2.6,1.4,.9],[.927,1.17,1,1.39,1.5,1.5,.7,1.78,.6,1.04,1.3,1.6,1.8],[.931,1.11,2.2,1.3,.9,1.58,1.1,1.7,.5,1.2,1.6,1.45,2.1],
[.935,1.06,.5,1.34,1.7,1.48,2.4,1.64,.9,1.16,.7,1.54,1.2],[.939,1.2,1.4,1.42,.6,1.6,.8,1.72,.7,1.09,2,1.27,2.3],[.943,1.13,1.9,1.36,1.3,1.53,.5,1.67,1.4,1.04,.8,1.46,1],[.947,1.07,.6,1.25,2.1,1.58,1.2,1.74,.5,1.18,1.5,1.4,1.6],
[.951,1.12,1.5,1.33,.7,1.49,1.7,1.63,.9,1.05,2.2,1.56,.5],[.955,1.19,.8,1.38,1.4,1.6,.6,1.7,.6,1.09,1.2,1.28,1.8],[.959,1.04,1.8,1.3,.5,1.44,1.1,1.66,1.1,1.15,.6,1.53,1.4],[.963,1.1,.6,1.22,1.6,1.5,1.3,1.58,.5,1.07,1.9,1.37,.9],
[.967,1.16,1.3,1.41,.7,1.55,.5,1.68,.9,1.05,.9,1.27,1.7],[.971,1.08,.5,1.34,1.5,1.46,1,1.62,.45,1.2,1.1,1.52,.7],[.975,1.13,1.6,1.29,.6,1.57,.8,1.72,.4,1.04,1.4,1.4,1.2],[.979,1.18,.7,1.36,1.1,1.5,.55,1.65,.6,1.07,1.7,1.24,1.4],
[.983,1.05,1.5,1.31,.5,1.44,.9,1.6,.45,1.12,1.1,1.55,.6],[.987,1.15,.55,1.38,.8,1.48,1.2,1.68,.35,1.08,1,1.25,1.3],[.991,1.04,1.2,1.28,.65,1.53,.5,1.62,.4,1.19,.9,1.43,.8],[.995,1.1,.9,1.33,.5,1.46,.85,1.72,.3,1.05,1.4,1.6,.38]
];
const rows622=[
[.275,2.66,1.7],[.378,5.43,1.55],[.381,1.25,6.4],[.545,3.98,.9],[.598,1.35,16.2],
[.42,2.2,4.2],[.424,2.05,2.5],[.43,1.45,4.4],[.432,1.35,2.6],[.443,1.85,8.8],[.447,1.3,7.1],[.45,2.2,7],[.452,1.45,1.4],[.453,2.6,4.4],[.458,1.75,5.3],[.462,1.45,8.8],[.476,2.85,4.4],[.472,1.9,10],[.479,1.3,8.4],[.48,1.15,4.3],[.493,3.75,1],[.497,3.3,1.1],[.5,2.8,1.5],[.503,2.7,1.3],[.507,3.3,.9],[.494,2.05,10.6],[.505,2,10.3],[.51,1.65,10.7],[.516,1.25,10.5],[.516,1.5,8.4],[.52,1.1,6.7],[.528,3.1,1.2],[.526,1.85,8.1],[.533,3.05,1.3],[.542,1.75,8.1],[.545,2.7,1.4],[.552,3.1,1.2],[.56,1.2,11.8],[.562,3.2,1],[.565,2.8,2],[.575,3,1.1],[.577,1.45,11.9],[.584,2.7,1.6],[.585,1.3,11.2],[.59,2.9,1.3],
[.6,1.1,10.1],[.606,2.9,4.2],[.61,1.25,11.1],[.612,1.05,9.2],[.62,2.9,4.1],[.625,1.4,9.1],[.63,1.1,10.1],[.635,2.45,4.8],[.638,1.25,11.6],[.64,2.95,4.3],[.642,1.1,12.6],[.645,2.9,3.7],[.648,1.5,8.1],[.656,1.3,11.2],[.66,2.3,5.3],[.665,1.15,10],[.67,1.05,11.5],[.678,1.3,11.8],[.685,2.95,3.9],[.69,1.04,9.3],[.695,2.7,3],[.702,2.75,3.2],[.705,1.3,11.2],[.712,2.7,2.8],[.71,1.15,12.9],[.715,1.25,13.3],[.72,1.5,9.5],[.73,1.04,10.5],[.735,1.35,12],[.74,2.45,5.3],[.75,1.1,11.3],[.755,2.5,4.6],[.765,1.2,9.5],[.77,2.8,2.2],[.775,2.3,2.3],[.785,1.3,12.9],[.788,1.04,12.4],[.795,2.6,1.8],[.802,1.2,11.9],[.812,1.05,10.6],[.82,1.15,11],[.826,1.2,11.4],[.84,1.3,9.4],[.855,2.25,1.6],[.858,2.15,2.3],[.875,2.3,1.2],[.882,2.3,1.1],[.892,1.45,9.8],[.93,1.95,1.1],[.958,2,.6],[.96,1.92,.8],
[.912,1.3,4.9],[.918,1.2,4.6],[.925,1.25,4.5],[.93,1.15,4.3],[.94,1.2,3.8],[.95,1.1,3.2],[.96,1.12,3.4],[.97,1.1,2.8],[.98,1.08,2.8],[.99,1.08,2.6],[1,1.06,2.2],[.905,1.15,6],[.935,1.12,3.9],[.945,1.1,3.3],[.955,1.08,3],[.965,1.1,2.7],[.975,1.06,2.6],[.985,1.05,2.4],[.995,1.06,2.3],
[.46,1.02,2],[.5,1.03,1.8],[.53,1.02,1.2],[.56,1.02,1.6],[.6,1.01,1],[.63,1.01,1.2],[.66,1.02,.8],[.69,1,.6],[.72,1.01,.9],[.75,1.01,.7],[.78,1.02,.5],[.81,1.01,.8],[.84,1.02,.6],[.87,1.01,.5],[.9,1.02,.7],[.93,1.02,.4],[.96,1.03,.5],[.99,1.02,.6],[.62,1.02,2.5],[.68,1.01,3.2],[.74,1.02,1.7],[.8,1.03,1.8],[.86,1.02,2.2],[.92,1.02,1.6],[.97,1.01,1.3],[.998,1.03,.7],[.65,1.02,3.5],[.71,1.01,4.5],[.77,1.02,2.8],[.83,1.01,3.6],[.89,1.02,1.4],[.95,1.02,.9],
[.7,1.55,9.5],[.68,1.7,9.8],[.65,1.6,9.5],[.62,1.75,8.6],[.6,1.85,7.7],[.58,1.4,10],[.56,1.6,7],[.54,1.38,8.2],[.74,1.65,9.7],[.76,1.75,8.6],[.78,1.5,10.5],[.82,1.65,9],[.84,1.55,8.2],[.66,1.8,7.5],[.72,1.82,7.3],[.83,1.8,7.2],[.71,1.4,10.2],[.67,1.45,10.6],[.63,1.5,8],[.59,1.72,8.6],[.61,1.2,12],[.75,1.4,11],[.79,1.25,11.3],[.81,1.42,9.8],[.86,1.4,8.5],[.88,1.3,7.8],[.57,1.25,9.7],[.55,1.28,10.2],[.69,1.3,10.6],[.73,1.2,11.5],
[.64,1.55,9.8],[.66,1.72,9.6],[.7,1.62,9.9],[.72,1.68,10.1],[.76,1.6,9.9],[.73,1.75,9.6],[.77,1.7,10],[.62,1.65,9.7],[.68,1.82,10],[.74,1.85,9.5],[.65,1.48,10],[.71,1.8,9.7],
[.58,2.25,4.7],[.59,2.4,3.8],[.6,2.6,3.3],[.615,2.55,3.5],[.63,2.35,3.9],[.65,2.3,4.6],[.67,2.2,4.9],[.69,2.35,3.1],[.71,2.25,5.6],[.72,2.2,6.2],[.73,2.1,6.6],[.76,2.05,7.2],[.78,2,7.7],[.55,2.5,3],[.57,2.3,3.1],
[.49,1.6,1.3],[.51,1.9,1.6],[.53,1.7,2.2],[.47,1.55,4.5],[.52,1.35,5.4],[.55,1.8,1.1],[.58,1.6,5.8],[.61,1.7,6.8],[.64,1.25,6.2],[.66,1.38,5.7],[.69,1.18,7],[.73,1.5,6.4],[.77,1.28,7.6],[.8,1.35,6.8],[.85,1.22,6.8],[.88,1.2,5.8],
[.6,1.22,9.4],[.62,1.5,10.4],[.64,1.12,8.8],[.66,1.4,9],[.68,1.25,8.7],[.7,1.15,9.9],[.72,1.3,8.8],[.74,1.18,9.1],[.76,1.3,10.9],[.78,1.15,9.1],[.8,1.25,10.3],[.82,1.32,9.7],[.84,1.18,10.2],[.86,1.25,9.2],[.58,1.52,9.4],[.56,1.4,9.2],[.63,1.62,10.2],[.67,1.55,10.9],[.75,1.52,10.1],[.79,1.6,9.3],[.83,1.45,10.4],[.65,1.3,10.8],[.7,1.42,11.6],[.77,1.35,11.8],[.81,1.3,11.3],[.69,1.48,9.2],[.74,1.38,9.8],[.85,1.5,9.6],[.87,1.6,8.9],[.6,1.68,9.9]
];
const all811=rows811.slice();
dense811.forEach(r=>{for(let i=1;i<r.length;i+=2)all811.push([r[0],r[i],r[i+1]]);});
const circ811=all811.map(r=>r[0]),ar811=all811.map(r=>r[1]),eqd811=all811.map(r=>r[2]);
const circ622=rows622.map(r=>r[0]),ar622=rows622.map(r=>r[1]),eqd622=rows622.map(r=>r[2]);
const ORANGE='#D95319',BLUE='#0072BD',AXIS='#262626',TXT='#404040',SERIF='"Liberation Serif","Times New Roman",serif';
const pts=(xs,ys)=>xs.map((x,i)=>({x,y:ys[i]}));
function fixed(sz){return s=>{if(s.isHorizontal())s.height=sz;else s.width=sz;s.paddingLeft=s.paddingRight=s.paddingTop=s.paddingBottom=0;};}
function axis(min,max,step,pos,size,title,labels){
  const o={type:'linear',position:pos,min,max,offset:false,afterFit:fixed(size),
    border:{display:true,color:AXIS,width:2},
    grid:{display:true,drawOnChartArea:false,drawTicks:true,tickLength:-8,tickColor:AXIS,tickWidth:2},
    ticks:{display:labels,stepSize:step,includeBounds:false,autoSkip:false,maxRotation:0,color:TXT,
      font:{family:SERIF,size:18.7},padding:(pos==='bottom'?18:12.5),callback:v=>String(+v.toFixed(1))}};
  if(title)o.title={display:true,text:title.t,color:title.c||'#111',font:{family:SERIF,size:title.s,weight:'bold'},padding:{top:title.pt||0,bottom:title.pb||0}};
  return o;
}
function make(id,h,bot,top,ytitle,xtitle,xr,yr,legend,d1,d2){
  const cv=document.getElementById(id);cv.width=825;cv.height=h;cv.style.width='825px';cv.style.height=h+'px';
  const ds=(l,c,d)=>({label:l,data:d,borderColor:c,borderWidth:1.4,backgroundColor:'rgba(0,0,0,0)',pointStyle:'circle',pointRadius:3.6,pointBorderWidth:1.4,showLine:false,clip:false});
  new Chart(cv,{type:'scatter',data:{datasets:[ds(legend?'NMC811    ':'NMC811',ORANGE,d1),ds(legend?'NMC622  ':'NMC622',BLUE,d2)]},
   options:{responsive:false,animation:false,
    layout:{padding:{left:0,right:0,top:top,bottom:legend?-9:0}},
    plugins:{tooltip:{enabled:false},legend:{display:legend,position:'bottom',fullSize:false,
      labels:{usePointStyle:true,boxWidth:20,boxHeight:10,padding:6,color:'#222',font:{family:SERIF,size:20.4}}}},
    scales:{
      x:axis(xr[0],xr[1],xr[2],'bottom',bot,xtitle,true),
      y:axis(yr[0],yr[1],yr[2],'left',57.5,ytitle,true),
      x2:axis(xr[0],xr[1],xr[2],'top',0,null,false),
      y2:axis(yr[0],yr[1],yr[2],'right',12,null,false)
    }}});
}
make('c1',215,46.5,8.5,{t:'Aspect Ratio',s:21.4,pt:17},{t:'   Circularity',s:20.8},[.2,1,.1],[0,6.6,2],false,pts(circ811,ar811),pts(circ622,ar622));
make('c2',220,47,12.5,{t:'EqD(um)',s:21,pt:7},{t:'   Circularity',s:20.8},[.2,1,.1],[0,30,10],false,pts(circ811,eqd811),pts(circ622,eqd622));
make('c3',260,61.6,12,{t:'Aspect Ratio',s:21.4,pt:17},{t:'Equivalent Diameter',s:21.4,pb:2.6,c:'#333'},[0,30,5],[0,6.6,2],true,pts(eqd811,ar811),pts(eqd622,ar622));
</script></body></html>
